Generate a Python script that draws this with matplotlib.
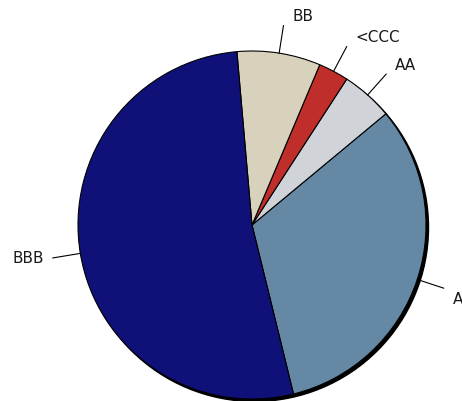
import numpy as np
import matplotlib
matplotlib.use('Agg')
import matplotlib.pyplot as plt
from matplotlib.patches import Circle

labels = ['A', 'AA', '<CCC', 'BB', 'BBB']
shares = [32.2, 4.8, 2.8, 7.75, 52.45]
colors = ['#6589a5', '#d0d4d8', '#c02e2b', '#d8d2bd', '#0f1178']

W, H = 462, 402
fig = plt.figure(figsize=(W / 100, H / 100), dpi=100)
ax = fig.add_axes([0, 0, 1, 1])

cx, cy, r = 252, H - 226, 174

# black drop shadow behind the pie
ax.add_patch(Circle((cx + 2.5, cy - 2.5), r, color='black', zorder=0))

wedges, _ = ax.pie(shares, colors=colors, startangle=283.8, counterclock=True,
                   center=(cx, cy), radius=r, frame=True,
                   wedgeprops=dict(edgecolor='black', linewidth=0.8))

ax.set_xlim(0, W)
ax.set_ylim(0, H)
ax.set_aspect('equal')
ax.axis('off')

for w, lab in zip(wedges, labels):
    ang = np.deg2rad((w.theta1 + w.theta2) / 2)
    dx, dy = np.cos(ang), np.sin(ang)
    x1, y1 = cx + 1.16 * r * dx, cy + 1.16 * r * dy
    ax.plot([cx + r * dx, x1], [cy + r * dy, y1], color='black', lw=0.8, zorder=3)
    side = 1 if dx > 0 else -1
    yoff = 10 * np.sign(dy) if abs(dy) > 0.2 else 0
    ax.text(x1 + 9 * side, y1 + yoff, lab, ha='left' if side > 0 else 'right',
            va='center', fontsize=11, color='#1a1a1a')

fig.savefig('out.png', dpi=100)
